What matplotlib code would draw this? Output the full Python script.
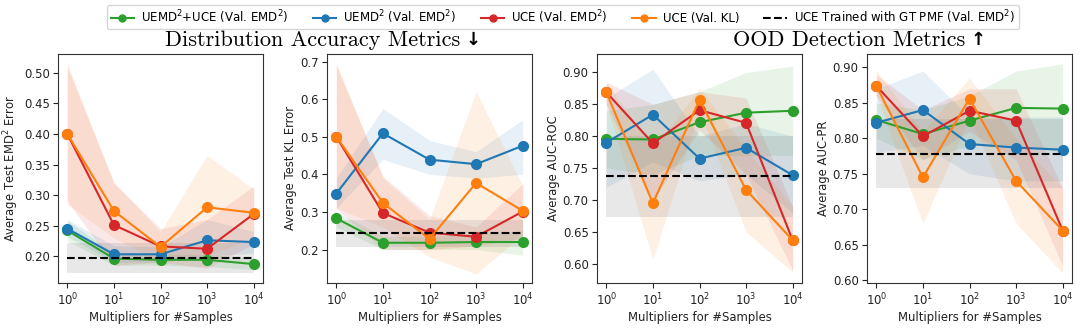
import numpy as np
import matplotlib
matplotlib.use("Agg")
import matplotlib.pyplot as plt
from matplotlib.lines import Line2D

# Sample-size multipliers shared by every panel
multipliers = [1, 10, 100, 1000, 10000]

series_names = ["UEMD$^2$+UCE (Val. EMD$^2$)", "UEMD$^2$ (Val. EMD$^2$)",
                "UCE (Val. EMD$^2$)", "UCE (Val. KL)"]
baseline_name = "UCE Trained with GT PMF (Val. EMD$^2$)"
series_colors = ["#2ca02c", "#1f77b4", "#d62728", "#ff7f0e"]

# Panel 1: average test EMD^2 error
emd_mean = [[0.242, 0.196, 0.194, 0.194, 0.187],
            [0.245, 0.203, 0.203, 0.226, 0.223],
            [0.400, 0.251, 0.216, 0.212, 0.269],
            [0.400, 0.274, 0.215, 0.280, 0.271]]
emd_lo = [[0.225, 0.185, 0.185, 0.183, 0.178],
          [0.232, 0.190, 0.190, 0.200, 0.205],
          [0.290, 0.185, 0.190, 0.180, 0.220],
          [0.285, 0.230, 0.190, 0.200, 0.230]]
emd_hi = [[0.258, 0.205, 0.203, 0.203, 0.197],
          [0.260, 0.217, 0.215, 0.260, 0.240],
          [0.510, 0.320, 0.245, 0.260, 0.315],
          [0.515, 0.320, 0.240, 0.365, 0.310]]
emd_base = [0.197, 0.172, 0.222]

# Panel 2: average test KL error
kl_mean = [[0.283, 0.218, 0.218, 0.220, 0.220],
           [0.349, 0.509, 0.439, 0.427, 0.476],
           [0.500, 0.297, 0.245, 0.234, 0.301],
           [0.500, 0.324, 0.228, 0.377, 0.303]]
kl_lo = [[0.260, 0.200, 0.200, 0.200, 0.185],
         [0.310, 0.440, 0.400, 0.390, 0.400],
         [0.310, 0.200, 0.200, 0.210, 0.230],
         [0.310, 0.260, 0.180, 0.135, 0.240]]
kl_hi = [[0.300, 0.235, 0.235, 0.240, 0.250],
         [0.390, 0.575, 0.490, 0.460, 0.545],
         [0.690, 0.395, 0.290, 0.260, 0.375],
         [0.695, 0.390, 0.280, 0.620, 0.370]]
kl_base = [0.243, 0.206, 0.278]

# Panel 3: average AUC-ROC
roc_mean = [[0.796, 0.795, 0.822, 0.837, 0.840],
            [0.790, 0.834, 0.765, 0.782, 0.739],
            [0.869, 0.789, 0.841, 0.821, 0.637],
            [0.869, 0.695, 0.857, 0.716, 0.637]]
roc_lo = [[0.750, 0.740, 0.770, 0.770, 0.770],
          [0.720, 0.760, 0.730, 0.740, 0.680],
          [0.850, 0.700, 0.810, 0.740, 0.590],
          [0.850, 0.607, 0.840, 0.650, 0.587]]
roc_hi = [[0.840, 0.850, 0.870, 0.900, 0.910],
          [0.860, 0.905, 0.800, 0.820, 0.800],
          [0.885, 0.850, 0.870, 0.860, 0.690],
          [0.885, 0.780, 0.875, 0.780, 0.690]]
roc_base = [0.737, 0.674, 0.800]

# Panel 4: average AUC-PR
pr_mean = [[0.826, 0.806, 0.825, 0.843, 0.842],
           [0.822, 0.840, 0.792, 0.787, 0.784],
           [0.874, 0.803, 0.839, 0.825, 0.670],
           [0.874, 0.745, 0.856, 0.740, 0.670]]
pr_lo = [[0.800, 0.770, 0.790, 0.790, 0.780],
         [0.780, 0.790, 0.750, 0.740, 0.740],
         [0.860, 0.770, 0.810, 0.770, 0.620],
         [0.860, 0.680, 0.830, 0.680, 0.610]]
pr_hi = [[0.850, 0.840, 0.860, 0.895, 0.905],
         [0.870, 0.895, 0.830, 0.830, 0.830],
         [0.890, 0.840, 0.870, 0.870, 0.730],
         [0.895, 0.810, 0.885, 0.800, 0.730]]
pr_base = [0.778, 0.730, 0.827]

panels = [
    ("Average Test EMD$^2$ Error", emd_mean, emd_lo, emd_hi, emd_base,
     (0.156, 0.531), [0.20, 0.25, 0.30, 0.35, 0.40, 0.45, 0.50], "{:.2f}"),
    ("Average Test KL Error", kl_mean, kl_lo, kl_hi, kl_base,
     (0.111, 0.720), [0.2, 0.3, 0.4, 0.5, 0.6, 0.7], "{:.1f}"),
    ("Average AUC-ROC", roc_mean, roc_lo, roc_hi, roc_base,
     (0.570, 0.929), [0.60, 0.65, 0.70, 0.75, 0.80, 0.85, 0.90], "{:.2f}"),
    ("Average AUC-PR", pr_mean, pr_lo, pr_hi, pr_base,
     (0.596, 0.919), [0.60, 0.65, 0.70, 0.75, 0.80, 0.85, 0.90], "{:.2f}"),
]

fig = plt.figure(figsize=(10.8, 3.31), dpi=100)
lefts_px = [58, 327, 597, 867]
ax_w, ax_b, ax_h = 205 / 1080, 1 - 283 / 331, 229 / 331

tick_fs = 8.4
for left, (ylabel, means, los, his, base, ylim, yticks, fmt) in zip(lefts_px, panels):
    ax = fig.add_axes([left / 1080, ax_b, ax_w, ax_h])
    for m, lo, hi, c in zip(means, los, his, series_colors):
        ax.fill_between(multipliers, lo, hi, color=c, alpha=0.11, linewidth=0)
        ax.plot(multipliers, m, "-o", color=c, lw=1.5, ms=7)
    ax.fill_between(multipliers, [base[1]] * 5, [base[2]] * 5,
                    color="gray", alpha=0.18, linewidth=0)
    ax.plot(multipliers, [base[0]] * 5, "--", color="black", lw=1.5)
    ax.set_xscale("log")
    ax.set_xticks(multipliers)
    ax.minorticks_off()
    ax.set_ylim(*ylim)
    ax.set_yticks(yticks)
    ax.set_yticklabels([fmt.format(t) for t in yticks])
    ax.tick_params(labelsize=tick_fs, length=3.5, pad=2.5, colors="#222222")
    ax.set_xlabel("Multipliers for #Samples", fontsize=tick_fs, labelpad=2,
                  color="#222222")
    ax.set_ylabel(ylabel, fontsize=tick_fs, labelpad=2, color="#222222")
    for s in ax.spines.values():
        s.set_color("#333333")

handles = [Line2D([], [], color=c, marker="o", lw=1.5, ms=5) for c in series_colors]
handles.append(Line2D([], [], color="black", ls="--", lw=1.5))
fig.legend(handles, series_names + [baseline_name], loc="center",
           bbox_to_anchor=(563 / 1080, 1 - 17 / 331), ncol=5, fontsize=8.5,
           frameon=True, handlelength=2.0, columnspacing=2.05,
           borderpad=0.3, handletextpad=0.6)

# Section headings with a bold direction arrow after each
renderer = fig.canvas.get_renderer()
for text, arrow, x_left in [("Distribution Accuracy Metrics", "\u2193", 165),
                            ("OOD Detection Metrics", "\u2191", 733)]:
    t = fig.text(x_left / 1080, 1 - 40 / 331, text, ha="left", va="center",
                 fontsize=16, family="cmr10")
    bb = t.get_window_extent(renderer)
    fig.text((bb.x1 + 5) / 1080, 1 - 40 / 331, arrow, ha="left", va="center",
             fontsize=13, family="DejaVu Sans", fontweight="bold")

fig.savefig("out.png", dpi=100)
